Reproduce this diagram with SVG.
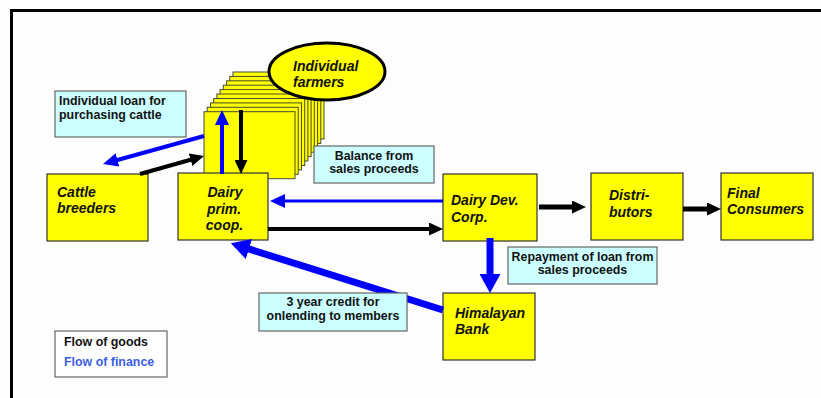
<svg xmlns="http://www.w3.org/2000/svg" width="821" height="398" viewBox="0 0 821 398">
  <style>
    .node { fill: #ffff00; stroke: #333333; stroke-width: 1.2; }
    .sheet { fill: #ffff00; stroke: #4a4a30; stroke-width: 1; }
    .note { fill: #ccffff; stroke: #666666; stroke-width: 1.2; }
    .legend { fill: #ffffff; stroke: #666666; stroke-width: 1.2; }
    .ntext { font-family: "Liberation Sans", Arial, sans-serif; font-size: 14px; font-weight: bold; font-style: italic; fill: #111111; }
    .ltext { font-family: "Liberation Sans", Arial, sans-serif; font-size: 12.4px; font-weight: bold; fill: #111111; }
    .goods { fill: none; stroke: #000000; }
    .finance { fill: none; stroke: #0000ff; }
  </style>
  <defs>
    <marker id="headK" markerUnits="userSpaceOnUse" viewBox="0 0 14 13" markerWidth="14" markerHeight="13" refX="1" refY="6.5" orient="auto">
      <path d="M0,0 L14,6.5 L0,13 Z" fill="#000000"/>
    </marker>
    <marker id="headB" markerUnits="userSpaceOnUse" viewBox="0 0 15 14" markerWidth="15" markerHeight="14" refX="1" refY="7" orient="auto">
      <path d="M0,0 L15,7 L0,14 Z" fill="#0000ff"/>
    </marker>
    <marker id="headBL" markerUnits="userSpaceOnUse" viewBox="0 0 19 21" markerWidth="19" markerHeight="21" refX="1" refY="10.5" orient="auto">
      <path d="M0,0 L19,10.5 L0,21 Z" fill="#0000ff"/>
    </marker>
  </defs>

  <rect width="821" height="398" fill="#fdfdfd"/>

  <!-- page frame -->
  <g id="frame" stroke="#000000" stroke-width="3">
    <line x1="10" y1="10.5" x2="821" y2="10.5"/>
    <line x1="11.5" y1="9" x2="11.5" y2="398"/>
  </g>

  <!-- stack of farmer sheets -->
  <g id="individual-farmers">
    <rect class="sheet" x="233" y="72" width="91" height="67"/>
    <rect class="sheet" x="229.8" y="76.4" width="91" height="67"/>
    <rect class="sheet" x="226.6" y="80.8" width="91" height="67"/>
    <rect class="sheet" x="223.3" y="85.2" width="91" height="67"/>
    <rect class="sheet" x="220.1" y="89.6" width="91" height="67"/>
    <rect class="sheet" x="216.9" y="94" width="91" height="67"/>
    <rect class="sheet" x="213.7" y="98.5" width="91" height="67"/>
    <rect class="sheet" x="210.5" y="102.9" width="91" height="67"/>
    <rect class="sheet" x="207.2" y="107.3" width="91" height="67"/>
    <rect class="sheet" x="204" y="111.7" width="91" height="67"/>
    <ellipse cx="327" cy="71.5" rx="58" ry="28.5" fill="#ffff00" stroke="#000000" stroke-width="3"/>
    <text class="ntext" x="293" y="71">Individual</text>
    <text class="ntext" x="293" y="86.5">farmers</text>
  </g>

  <g id="cattle-breeders">
    <rect class="node" x="47" y="174" width="101" height="67"/>
    <text class="ntext" x="57" y="196.5">Cattle</text>
    <text class="ntext" x="57" y="212.5">breeders</text>
  </g>

  <g id="dairy-prim-coop">
    <rect class="node" x="178" y="173" width="90" height="67"/>
    <text class="ntext" x="225" y="197" text-anchor="middle">Dairy</text>
    <text class="ntext" x="224" y="213.5" text-anchor="middle">prim.</text>
    <text class="ntext" x="224.5" y="230" text-anchor="middle">coop.</text>
  </g>

  <g id="dairy-dev-corp">
    <rect class="node" x="443" y="174" width="94" height="67"/>
    <text class="ntext" x="451" y="205">Dairy Dev.</text>
    <text class="ntext" x="451" y="221.5">Corp.</text>
  </g>

  <g id="distributors">
    <rect class="node" x="591" y="173" width="92" height="67"/>
    <text class="ntext" x="609" y="200">Distri-</text>
    <text class="ntext" x="609" y="216.5">butors</text>
  </g>

  <g id="final-consumers">
    <rect class="node" x="721" y="173" width="92" height="67"/>
    <text class="ntext" x="727" y="197.5">Final</text>
    <text class="ntext" x="727" y="214">Consumers</text>
  </g>

  <g id="himalayan-bank">
    <rect class="node" x="443" y="293" width="92" height="67"/>
    <text class="ntext" x="455" y="317.5">Himalayan</text>
    <text class="ntext" x="455" y="334">Bank</text>
  </g>

  <!-- connectors -->
  <g id="connectors">
    <line class="finance" stroke-width="4" x1="204" y1="136" x2="116.5" y2="160.2" marker-end="url(#headB)"/>
    <line class="goods" stroke-width="4" x1="140" y1="174" x2="191.5" y2="159.5" marker-end="url(#headK)"/>
    <line class="finance" stroke-width="4" x1="222" y1="174" x2="222" y2="124" marker-end="url(#headB)"/>
    <line class="goods" stroke-width="4" x1="241" y1="110" x2="241" y2="161" marker-end="url(#headK)"/>
    <line class="finance" stroke-width="3" x1="443" y1="201" x2="284" y2="201" marker-end="url(#headB)"/>
    <line class="goods" stroke-width="4" x1="268" y1="229" x2="430" y2="229" marker-end="url(#headK)"/>
    <line class="goods" stroke-width="5" x1="539" y1="207" x2="573" y2="207" marker-end="url(#headK)"/>
    <line class="goods" stroke-width="5" x1="683" y1="209" x2="708" y2="209" marker-end="url(#headK)"/>
    <line class="finance" stroke-width="7" x1="490" y1="238" x2="490" y2="275" marker-end="url(#headBL)"/>
    <line class="finance" stroke-width="7" x1="443" y1="310" x2="248" y2="248.7" marker-end="url(#headBL)"/>
  </g>

  <!-- flow labels -->
  <g id="label-individual-loan">
    <rect class="note" x="55" y="91" width="131" height="46"/>
    <text class="ltext" x="59" y="104.5">Individual loan for</text>
    <text class="ltext" x="59" y="118.5">purchasing cattle</text>
  </g>

  <g id="label-balance">
    <rect class="note" x="314" y="146" width="120" height="37"/>
    <text class="ltext" x="374" y="159.5" text-anchor="middle">Balance from</text>
    <text class="ltext" x="374" y="172.5" text-anchor="middle">sales proceeds</text>
  </g>

  <g id="label-repayment">
    <rect class="note" x="508" y="247" width="149" height="37"/>
    <text class="ltext" x="582.5" y="261" text-anchor="middle">Repayment of loan from</text>
    <text class="ltext" x="582.5" y="274" text-anchor="middle">sales proceeds</text>
  </g>

  <g id="label-credit">
    <rect class="note" x="259" y="293" width="148" height="38"/>
    <text class="ltext" x="333" y="305.5" text-anchor="middle">3 year credit for</text>
    <text class="ltext" x="333" y="320" text-anchor="middle">onlending to members</text>
  </g>

  <!-- legend -->
  <g id="legend">
    <rect class="legend" x="55" y="331" width="112" height="46"/>
    <text class="ltext" x="64" y="346">Flow of goods</text>
    <text class="ltext" x="64" y="365.5" style="fill:#3a5de0">Flow of finance</text>
  </g>
</svg>
